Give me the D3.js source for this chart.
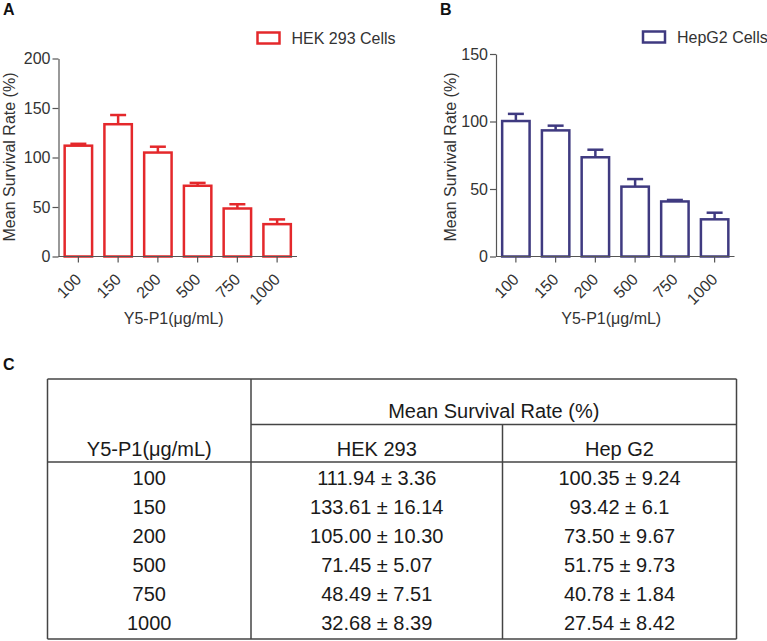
<!DOCTYPE html>
<html>
<head>
<meta charset="utf-8">
<script src="https://cdn.jsdelivr.net/npm/d3@7"></script>
<style>
  html, body { margin: 0; padding: 0; background: #fff; }
  svg { display: block; }
  text { font-family: "Liberation Sans", Arial, sans-serif; }
</style>
</head>
<body>
<svg id="chart" width="767" height="641"></svg>
<script>
// ---------------- data ----------------
const doses = ["100", "150", "200", "500", "750", "1000"];
const hekMean = ["111.94", "133.61", "105.00", "71.45", "48.49", "32.68"];
const hekSD   = ["3.36", "16.14", "10.30", "5.07", "7.51", "8.39"];
const hepMean = ["100.35", "93.42", "73.50", "51.75", "40.78", "27.54"];
const hepSD   = ["9.24", "6.1", "9.67", "9.73", "1.84", "8.42"];
// error bars as drawn in the plots (upper whisker only)
const hekErr = [1.9, 9.3, 5.9, 2.9, 4.3, 4.8];
const hepErr = [5.3, 3.5, 5.6, 5.6, 1.1, 4.9];
const hekTicks = [0, 50, 100, 150, 200];
const hepTicks = [0, 50, 100, 150];
const xTitle = "Y5-P1(μg/mL)";
const yTitle = "Mean Survival Rate (%)";

const svg = d3.select("#chart");
const axisColor = "#555";
const textColor = "#333";

function panel(opts) {
  const g = svg.append("g");
  const x = d3.scaleBand().domain(doses).range(opts.xRange)
    .paddingInner(0.31).paddingOuter(0.155);
  const y = d3.scaleLinear().domain(opts.yDomain).range(opts.yRange);

  // bars
  const data = doses.map((d, i) => ({ d, v: +opts.means[i], e: opts.errs[i] }));
  g.selectAll("rect.bar").data(data).join("rect")
    .attr("class", "bar")
    .attr("x", d => x(d.d))
    .attr("width", x.bandwidth())
    .attr("y", d => y(d.v))
    .attr("height", d => y(0) - y(d.v))
    .attr("fill", "#fff")
    .attr("stroke", opts.color)
    .attr("stroke-width", 2.5);

  // error bars
  const capW = 16;
  g.selectAll("line.err").data(data).join("line")
    .attr("class", "err")
    .attr("x1", d => x(d.d) + x.bandwidth() / 2)
    .attr("x2", d => x(d.d) + x.bandwidth() / 2)
    .attr("y1", d => y(d.v))
    .attr("y2", d => y(d.v + d.e))
    .attr("stroke", opts.color).attr("stroke-width", 2.5);
  g.selectAll("line.cap").data(data).join("line")
    .attr("class", "cap")
    .attr("x1", d => x(d.d) + x.bandwidth() / 2 - capW / 2)
    .attr("x2", d => x(d.d) + x.bandwidth() / 2 + capW / 2)
    .attr("y1", d => y(d.v + d.e))
    .attr("y2", d => y(d.v + d.e))
    .attr("stroke", opts.color).attr("stroke-width", 2.5);

  // y axis
  const ya = g.append("g")
    .attr("transform", `translate(${opts.xRange[0]},0)`)
    .call(d3.axisLeft(y).tickValues(opts.ticks).tickSize(6).tickSizeOuter(0).tickPadding(2));
  ya.select(".domain").attr("stroke", axisColor).attr("stroke-width", 1.2);
  ya.selectAll(".tick line").attr("stroke", axisColor).attr("stroke-width", 1.2);
  ya.selectAll(".tick text").attr("fill", textColor)
    .style("font-size", "16px").style("font-family", "'Liberation Sans', Arial, sans-serif");

  // x axis
  const xa = g.append("g")
    .attr("transform", `translate(0,${y(0)})`)
    .call(d3.axisBottom(x).tickSize(6).tickSizeOuter(0));
  xa.select(".domain").attr("stroke", axisColor).attr("stroke-width", 1.2)
    .attr("d", `M${opts.xRange[0]},0H${opts.xRange[1]}`);
  xa.selectAll(".tick line").attr("stroke", axisColor).attr("stroke-width", 1.2);
  xa.selectAll(".tick text")
    .attr("fill", textColor)
    .style("font-size", "16px").style("font-family", "'Liberation Sans', Arial, sans-serif")
    .attr("text-anchor", "end")
    .attr("x", 0).attr("y", 0).attr("dy", "0.35em")
    .attr("transform", "translate(0,20) rotate(-45)");

  // titles
  g.append("text")
    .attr("x", (opts.xRange[0] + opts.xRange[1]) / 2 - 4)
    .attr("y", 324)
    .attr("text-anchor", "middle")
    .attr("fill", textColor).style("font-size", "16px")
    .text(xTitle);
  g.append("text")
    .attr("transform", `translate(${opts.yLabelX},157) rotate(-90)`)
    .attr("text-anchor", "middle")
    .attr("fill", textColor).style("font-size", "16px")
    .text(yTitle);

  // legend
  g.append("rect")
    .attr("x", opts.legend[0]).attr("y", opts.legend[1])
    .attr("width", 22).attr("height", 11)
    .attr("fill", "#fff").attr("stroke", opts.color).attr("stroke-width", 2.5);
  g.append("text")
    .attr("x", opts.legend[0] + 34).attr("y", opts.legend[1] + 11)
    .attr("fill", textColor).style("font-size", "16px")
    .text(opts.legendText);

  // panel letter
  g.append("text")
    .attr("x", opts.letterX).attr("y", 15)
    .attr("fill", "#111").style("font-size", "16px").style("font-weight", "bold")
    .text(opts.letter);
}

panel({
  xRange: [58.5, 297], yDomain: [0, 200], yRange: [256.5, 58.5],
  means: hekMean, errs: hekErr, ticks: hekTicks, color: "#e4282b",
  yLabelX: 15, legend: [257.5, 32.5], legendText: "HEK 293 Cells",
  letter: "A", letterX: 3
});
panel({
  xRange: [496, 734.5], yDomain: [0, 150], yRange: [256.5, 54],
  means: hepMean, errs: hepErr, ticks: hepTicks, color: "#3f3a80",
  yLabelX: 456, legend: [643, 31.5], legendText: "HepG2 Cells",
  letter: "B", letterX: 440
});

// ---------------- table ----------------
svg.append("text").attr("x", 3).attr("y", 370)
  .attr("fill", "#111").style("font-size", "16px").style("font-weight", "bold").text("C");

const tL = 47.5, tR = 736.5, tT = 379, tB = 639;
const c1 = 251, c2 = 502.5, hMid = 424.5, hBot = 462;
const lineColor = "#444";
const tbl = svg.append("g");
const segs = [
  [tL, tT, tR, tT], [tL, tB, tR, tB], [tL, tT, tL, tB], [tR, tT, tR, tB],
  [c1, tT, c1, tB], [c2, hMid, c2, tB], [c1, hMid, tR, hMid], [tL, hBot, tR, hBot]
];
tbl.selectAll("line").data(segs).join("line")
  .attr("x1", d => d[0]).attr("y1", d => d[1]).attr("x2", d => d[2]).attr("y2", d => d[3])
  .attr("stroke", lineColor).attr("stroke-width", 1.5);

const tStyle = sel => sel.attr("fill", "#1a1a1a").style("font-size", "20px").attr("text-anchor", "middle");
const col1X = (tL + c1) / 2, col2X = (c1 + c2) / 2, col3X = (c2 + tR) / 2;
tbl.append("text").attr("x", (c1 + tR) / 2).attr("y", 418).call(tStyle).text(yTitle);
tbl.append("text").attr("x", col1X).attr("y", 455.5).call(tStyle).text(xTitle);
tbl.append("text").attr("x", col2X).attr("y", 455.5).call(tStyle).text("HEK 293");
tbl.append("text").attr("x", col3X).attr("y", 455.5).call(tStyle).text("Hep G2");

const rowY = d3.scaleLinear().domain([0, 5]).range([485, 630.3]);
const rows = doses.map((d, i) => ({
  d, i,
  hek: `${hekMean[i]} ± ${hekSD[i]}`,
  hep: `${hepMean[i]} ± ${hepSD[i]}`
}));
tbl.selectAll("text.c1").data(rows).join("text").attr("class", "c1")
  .attr("x", col1X).attr("y", r => rowY(r.i)).call(tStyle).text(r => r.d);
tbl.selectAll("text.c2").data(rows).join("text").attr("class", "c2")
  .attr("x", col2X).attr("y", r => rowY(r.i)).call(tStyle).text(r => r.hek);
tbl.selectAll("text.c3").data(rows).join("text").attr("class", "c3")
  .attr("x", col3X).attr("y", r => rowY(r.i)).call(tStyle).text(r => r.hep);
</script>
</body>
</html>
